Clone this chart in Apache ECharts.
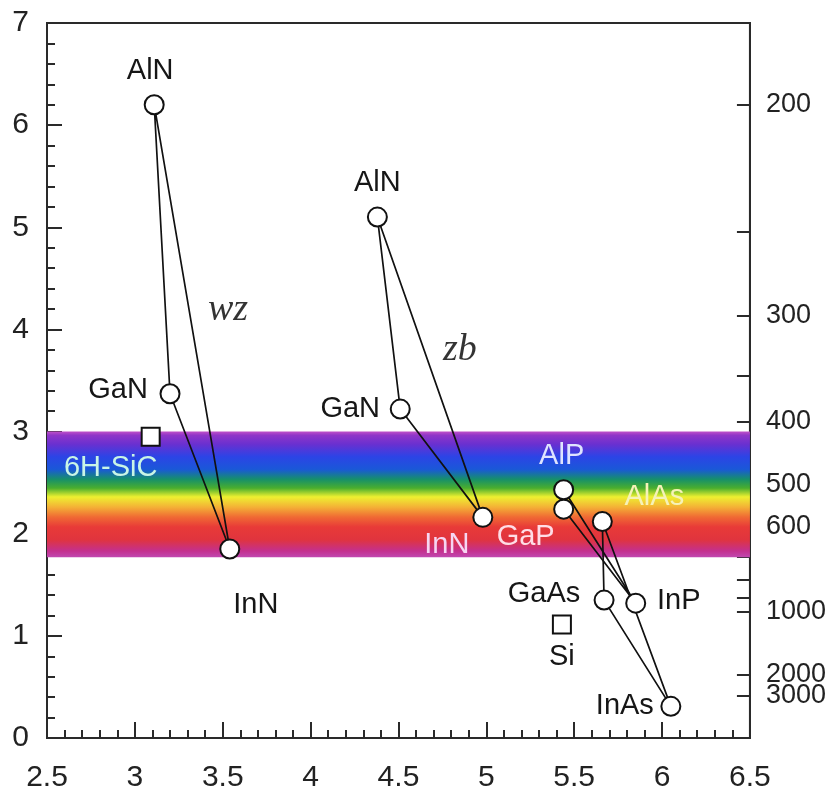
<!DOCTYPE html>
<html>
<head>
<meta charset="utf-8">
<script src="https://cdn.jsdelivr.net/npm/echarts@6/dist/echarts.min.js"></script>
<style>html,body{margin:0;padding:0;background:#fff}#c{width:829px;height:794px}</style>
</head>
<body>
<div id="c"></div>
<script>
// ---- data ----
const wzNames = ['AlN', 'GaN', 'InN'];
const wzX = [3.11, 3.20, 3.54];
const wzY = [6.20, 3.37, 1.85];

const zbNames = ['AlN', 'GaN', 'InN'];
const zbX = [4.38, 4.51, 4.98];
const zbY = [5.10, 3.22, 2.16];

const phNames = ['AlP', 'GaP', 'InP'];
const phX = [5.44, 5.44, 5.85];
const phY = [2.43, 2.24, 1.32];

const asNames = ['AlAs', 'GaAs', 'InAs'];
const asX = [5.66, 5.67, 6.05];
const asY = [2.12, 1.35, 0.31];

const refNames = ['6H-SiC', 'Si'];
const refX = [3.09, 5.43];
const refY = [2.95, 1.11];

const annText = ['wz', 'zb'];
const annX = [3.53, 4.85];
const annY = [4.19, 3.80];

const bandTop = 3.0;     // eV
const bandBottom = 1.77; // eV

const wlTicks = [200, 250, 300, 350, 400, 450, 500, 550, 600, 650, 700, 800, 900, 1000, 2000, 3000];
const wlLabelsA = [200, 300, 400, 500, 600, 1000, 2000];
const wlLabelsB = [3000];
const xTicks = [2.5, 3, 3.5, 4, 4.5, 5, 5.5, 6, 6.5];

// ---- styles (kept separate from data) ----
const labelStyle = {
  'wz-AlN': {offset: [-4, -34]},
  'wz-GaN': {offset: [-52, -4]},
  'wz-InN': {offset: [26, 56]},
  'zb-AlN': {offset: [0, -34]},
  'zb-GaN': {offset: [-50, 0]},
  'zb-InN': {offset: [-36, 28], color: '#f6d6f2'},
  'ph-AlP': {offset: [-2, -34], color: '#dfe4ff'},
  'ph-GaP': {offset: [-38, 28], color: '#ffdde6'},
  'ph-InP': {offset: [43, -2]},
  'as-AlAs': {offset: [52, -24], color: '#f6f2b8'},
  'as-GaAs': {offset: [-60, -6]},
  'as-InAs': {offset: [-46, 0]},
  'ref-6H-SiC': {offset: [-40, 31], color: '#c9f5e6'},
  'ref-Si': {offset: [0, 32]}
};

const E_HC = 1240;
const FONT = '"Liberation Sans", Arial, sans-serif';

function pts(xs, ys) { return xs.map((x, i) => [x, ys[i]]); }
function closed(xs, ys) { const p = pts(xs, ys); return p.concat([p[0]]); }
function items(prefix, names, xs, ys) {
  return names.map((n, i) => {
    const st = labelStyle[prefix + '-' + n] || {offset: [0, 0]};
    return {
      value: [xs[i], ys[i]],
      name: n,
      label: {offset: st.offset, color: st.color || '#161616'}
    };
  });
}

const lineSeries = (xs, ys) => ({
  type: 'line', data: closed(xs, ys), symbol: 'none', silent: true, z: 3,
  lineStyle: {color: '#111', width: 1.7}
});

const ptLabel = {
  show: true, position: 'inside', formatter: '{b}', fontSize: 29,
  fontFamily: FONT, align: 'center', verticalAlign: 'middle'
};

const circleSeries = (prefix, names, xs, ys) => ({
  type: 'scatter', data: items(prefix, names, xs, ys), symbol: 'circle', symbolSize: 19, z: 5,
  itemStyle: {color: '#fff', borderColor: '#111', borderWidth: 2, opacity: 1},
  label: ptLabel
});

const chart = echarts.init(document.getElementById('c'), null, {renderer: 'canvas'});

const bandGradient = new echarts.graphic.LinearGradient(0, 0, 0, 1, [
  {offset: 0.00, color: '#c050c8'},
  {offset: 0.03, color: '#9036c8'},
  {offset: 0.10, color: '#6a30d0'},
  {offset: 0.20, color: '#2c44e6'},
  {offset: 0.30, color: '#1a58d8'},
  {offset: 0.38, color: '#16906a'},
  {offset: 0.45, color: '#4aae2e'},
  {offset: 0.52, color: '#eef030'},
  {offset: 0.60, color: '#f4b236'},
  {offset: 0.68, color: '#f06a34'},
  {offset: 0.76, color: '#e83a38'},
  {offset: 0.86, color: '#e0343e'},
  {offset: 0.95, color: '#c4308e'},
  {offset: 1.00, color: '#c048b0'}
]);

const rightLabel = (vals) => ({
  fontSize: 27, fontFamily: FONT, color: '#222', margin: 16, hideOverlap: false,
  customValues: vals.map(w => E_HC / w),
  formatter: v => String(Math.round(E_HC / v))
});

const option = {
  animation: false,
  backgroundColor: '#fff',
  grid: {left: 47, right: 78, top: 23, bottom: 56, show: true, borderColor: '#2a2a2a', borderWidth: 2, backgroundColor: 'transparent'},
  xAxis: {
    type: 'value', min: 2.5, max: 6.5, interval: 0.5,
    axisLine: {show: true, lineStyle: {color: '#2a2a2a', width: 2}},
    axisTick: {show: true, inside: true, length: 16, lineStyle: {color: '#2a2a2a', width: 2}},
    minorTick: {show: true, splitNumber: 5, length: 8, lineStyle: {color: '#2a2a2a', width: 2}},
    splitLine: {show: false},
    axisLabel: {
      fontSize: 30, fontFamily: FONT, color: '#222', margin: 25, hideOverlap: false,
      customValues: xTicks,
      formatter: v => String(v)
    }
  },
  yAxis: [{
    type: 'value', min: 0, max: 7, interval: 1,
    axisLine: {show: true, lineStyle: {color: '#2a2a2a', width: 2}},
    axisTick: {show: true, inside: true, length: 15, lineStyle: {color: '#2a2a2a', width: 2}},
    minorTick: {show: true, splitNumber: 5, length: 8, lineStyle: {color: '#2a2a2a', width: 2}},
    splitLine: {show: false},
    axisLabel: {fontSize: 30, fontFamily: FONT, color: '#222', margin: 18, hideOverlap: false}
  }, {
    type: 'value', min: 0, max: 7, position: 'right',
    axisLine: {show: true, onZero: false, lineStyle: {color: '#2a2a2a', width: 2}},
    axisTick: {show: true, inside: true, length: 13, customValues: wlTicks.map(w => E_HC / w), lineStyle: {color: '#2a2a2a', width: 2}},
    splitLine: {show: false},
    axisLabel: rightLabel(wlLabelsA)
  }, {
    type: 'value', min: 0, max: 7, position: 'right', offset: 0,
    axisLine: {show: false, onZero: false},
    axisTick: {show: true, inside: true, length: 13, customValues: wlLabelsB.map(w => E_HC / w), lineStyle: {color: '#2a2a2a', width: 2}},
    splitLine: {show: false},
    axisLabel: rightLabel(wlLabelsB)
  }],
  series: [
    {
      type: 'line', data: [], silent: true, z: 1,
      markArea: {
        silent: true,
        itemStyle: {color: bandGradient, opacity: 1},
        data: [[{coord: [2.5, bandTop]}, {coord: [6.5, bandBottom]}]]
      }
    },
    lineSeries(wzX, wzY),
    lineSeries(zbX, zbY),
    lineSeries(phX, phY),
    lineSeries(asX, asY),
    circleSeries('wz', wzNames, wzX, wzY),
    circleSeries('zb', zbNames, zbX, zbY),
    circleSeries('ph', phNames, phX, phY),
    circleSeries('as', asNames, asX, asY),
    {
      type: 'scatter', data: items('ref', refNames, refX, refY), symbol: 'rect', symbolSize: 18, z: 5,
      itemStyle: {color: '#fff', borderColor: '#111', borderWidth: 2, opacity: 1},
      label: ptLabel
    },
    {
      type: 'scatter', data: annText.map((t, i) => ({value: [annX[i], annY[i]], name: t})),
      symbolSize: 0, z: 6, silent: true,
      label: {show: true, position: 'inside', formatter: '{b}', fontSize: 38, fontStyle: 'italic',
        fontFamily: '"Liberation Serif", "Times New Roman", serif', color: '#000'}
    }
  ]
};
chart.setOption(option);
</script>
</body>
</html>
